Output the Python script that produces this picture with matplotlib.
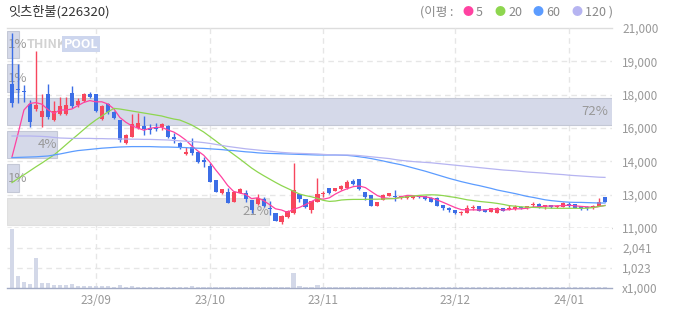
import matplotlib
matplotlib.use("Agg")
import matplotlib.pyplot as plt
import numpy as np

plt.rcParams['font.family'] = ['Noto Sans CJK KR', 'DejaVu Sans']

# ---------------- data ----------------
title = "잇츠한불(226320)"
opens = [18180, 17950, 17870, 17200, 16930, 16550, 17680, 16400, 16690, 16690,
         17730, 17150, 17350, 17690, 17690, 16450, 17200, 16790, 16400, 15240,
         15570, 15990, 16100, 16000, 16070, 16070, 16100, 15570, 15270, 14680,
         15030, 14820, 14400, 14100, 13400, 12730, 12820, 12320, 12770, 12730,
         12400, 12200, 12430, 11980, 11730, 11320, 11570, 11770, 12700, 12430,
         11900, 12320, 12690, 12980, 12850, 12930, 12990, 13350, 13450, 12780,
         12650, 12120, 12400, 12600, 12600, 12490, 12490, 12490, 12600, 12600,
         12520, 12520, 12150, 12020, 11900, 11730, 11770, 12000, 12100, 11950,
         11820, 11770, 11980, 11930, 11930, 12070, 11980, 12160, 12180, 12070,
         12150, 12030, 12070, 12200, 12180, 12100, 12070, 11980, 12100, 12530]
highs = [20750, 19180, 18150, 17400, 19850, 17680, 18180, 17350, 17570, 17550,
         18100, 17520, 17730, 17820, 17710, 17150, 17250, 16850, 16420, 15700,
         16700, 16750, 16620, 16220, 16270, 16240, 16130, 15730, 15300, 15070,
         15480, 14850, 14530, 14230, 13420, 12950, 12980, 12850, 12980, 12900,
         12420, 12700, 12530, 12370, 11750, 11650, 11900, 14270, 12720, 12450,
         12370, 13520, 12870, 12990, 12990, 13150, 13400, 13450, 13460, 12790,
         12670, 12320, 12680, 12770, 12900, 12620, 12620, 12620, 12650, 12620,
         12540, 12530, 12160, 12030, 11920, 11830, 12150, 12150, 12110, 11960,
         12000, 12030, 12000, 12150, 12130, 12080, 12110, 12320, 12230, 12160,
         12160, 12150, 12280, 12280, 12190, 12110, 12080, 12130, 12480, 12540]
lows = [17050, 17250, 17300, 16050, 16850, 16070, 16430, 16350, 16650, 16650,
        17020, 17070, 17300, 17500, 16780, 16420, 16700, 16450, 15290, 15200,
        15550, 15950, 15650, 15700, 15860, 15900, 15480, 15230, 14930, 14650,
        14650, 14230, 14070, 13300, 12800, 12720, 12250, 12300, 12750, 12320,
        11730, 12150, 12050, 11650, 11350, 11200, 11500, 11700, 12300, 12000,
        11730, 12300, 12570, 12720, 12830, 12920, 12970, 13150, 12900, 12400,
        12080, 12100, 12380, 12580, 12350, 12450, 12450, 12430, 12500, 12400,
        12300, 12100, 11900, 11800, 11680, 11650, 11750, 11900, 11850, 11780,
        11800, 11750, 11850, 11880, 11900, 11960, 11970, 12070, 12010, 11950,
        11980, 12020, 12060, 12030, 12000, 11920, 11900, 11970, 12090, 12310]
closes = [17260, 17880, 17800, 16280, 17130, 16850, 16530, 16850, 17120, 17150,
          17120, 17350, 17680, 17570, 16850, 17110, 16780, 16520, 15420, 15650,
          16190, 16230, 15950, 15880, 15930, 16200, 15560, 15430, 14980, 14820,
          14770, 14320, 14320, 13320, 12820, 12930, 12270, 12820, 12930, 12430,
          11900, 12480, 12100, 11950, 11370, 11600, 11870, 12900, 12430, 12030,
          12350, 12700, 12720, 12770, 12980, 13100, 13320, 13180, 12930, 12570,
          12100, 12320, 12650, 12770, 12530, 12600, 12600, 12600, 12550, 12430,
          12320, 12120, 11980, 11900, 11770, 11820, 12020, 12030, 11870, 11820,
          11980, 11980, 11870, 11950, 12030, 11980, 12100, 12180, 12020, 12150,
          12070, 12120, 12230, 12120, 12020, 11930, 11980, 12120, 12320, 12320]
volume_k = [2990, 620, 305, 200, 1515, 255, 255, 160, 160, 160,
            200, 105, 105, 105, 90, 105, 100, 70, 157, 70,
            104, 52, 52, 45, 45, 40, 45, 40, 45, 40,
            100, 45, 40, 35, 40, 35, 35, 40, 35, 35,
            40, 35, 35, 40, 45, 35, 40, 790, 88, 40,
            40, 140, 40, 35, 35, 40, 35, 35, 35, 35,
            35, 35, 35, 35, 35, 30, 30, 30, 30, 30,
            30, 35, 30, 30, 30, 30, 30, 30, 30, 30,
            30, 30, 30, 30, 30, 30, 30, 30, 30, 30,
            30, 30, 30, 30, 30, 30, 30, 30, 30, 35]
ma5 = [14550, 15700, 16900, 17230, 17270, 17190, 16920, 16730, 16900, 16900,
       16950, 17120, 17280, 17370, 17310, 17310, 17200, 16960, 16530, 16290,
       16110, 16000, 15890, 15980, 16030, 16040, 15900, 15800, 15620, 15400,
       15110, 14860, 14640, 14310, 13910, 13540, 13130, 12830, 12750, 12680,
       12470, 12510, 12370, 12170, 11960, 11900, 11780, 11940, 12030, 12170,
       12320, 12480, 12440, 12510, 12700, 12850, 12970, 13070, 13100, 13020,
       12820, 12620, 12510, 12480, 12470, 12570, 12630, 12620, 12580, 12560,
       12500, 12400, 12280, 12150, 12020, 11920, 11900, 11910, 11900, 11910,
       11940, 11940, 11900, 11920, 11960, 11960, 11990, 12050, 12060, 12090,
       12100, 12110, 12120, 12140, 12110, 12080, 12060, 12030, 12070, 12130]
ma20 = [13270, 13470, 13660, 13860, 14060, 14250, 14450, 14650, 14900, 15160,
        15420, 15670, 15930, 16180, 16400, 16600, 16800, 16980, 16950, 16900,
        16850, 16800, 16750, 16700, 16650, 16600, 16520, 16450, 16400, 16280,
        16150, 15980, 15800, 15580, 15360, 15130, 14900, 14680, 14460, 14230,
        14000, 13800, 13620, 13450, 13280, 13120, 12980, 12840, 12700, 12620,
        12560, 12480, 12380, 12330, 12350, 12400, 12420, 12430, 12430, 12430,
        12440, 12440, 12450, 12460, 12480, 12520, 12560, 12600, 12630, 12650,
        12660, 12650, 12620, 12570, 12530, 12470, 12410, 12370, 12330, 12300,
        12270, 12230, 12180, 12120, 12090, 12060, 12040, 12030, 12020, 12000,
        11990, 11985, 11985, 11985, 11985, 11985, 11990, 12020, 12080, 12120]
ma60 = [14520, 14530, 14540, 14550, 14560, 14580, 14600, 14650, 14700, 14760,
        14820, 14870, 14900, 14930, 14960, 14990, 15010, 15030, 15050, 15060,
        15070, 15070, 15070, 15070, 15060, 15050, 15050, 15040, 15030, 15020,
        15000, 14990, 14980, 14960, 14940, 14920, 14890, 14870, 14840, 14810,
        14790, 14760, 14740, 14730, 14720, 14710, 14700, 14690, 14680, 14670,
        14660, 14650, 14650, 14650, 14650, 14640, 14630, 14600, 14560, 14520,
        14470, 14410, 14350, 14280, 14220, 14160, 14080, 14000, 13920, 13840,
        13750, 13660, 13570, 13480, 13400, 13320, 13250, 13180, 13120, 13050,
        12980, 12900, 12840, 12780, 12720, 12650, 12580, 12530, 12470, 12410,
        12370, 12340, 12310, 12290, 12280, 12280, 12270, 12260, 12250, 12250]
ma120 = [15600, 15600, 15600, 15600, 15590, 15580, 15560, 15530, 15500, 15490,
         15480, 15480, 15480, 15480, 15470, 15470, 15460, 15460, 15450, 15450,
         15440, 15440, 15430, 15430, 15420, 15410, 15400, 15380, 15360, 15340,
         15320, 15300, 15270, 15230, 15180, 15130, 15080, 15040, 15000, 14960,
         14930, 14900, 14870, 14840, 14810, 14780, 14760, 14740, 14730, 14720,
         14710, 14700, 14680, 14660, 14650, 14650, 14650, 14640, 14620, 14590,
         14560, 14530, 14500, 14470, 14420, 14380, 14350, 14320, 14300, 14280,
         14260, 14230, 14200, 14170, 14140, 14110, 14080, 14050, 14020, 13990,
         13960, 13930, 13900, 13880, 13860, 13830, 13800, 13780, 13760, 13740,
         13710, 13690, 13670, 13640, 13620, 13600, 13580, 13560, 13540, 13530]
month_idx = [14, 33, 52, 74, 93]
month_labels = ['23/09', '23/10', '23/11', '23/12', '24/01']
price_min, price_max = 11000, 21000
price_tick_labels = ['11,000', '13,000', '14,000', '16,000', '18,000', '19,000', '21,000']
vol_max = 3062
vol_ticks = [0, 1023, 2041]
vol_tick_labels = ['x1,000', '1,023', '2,041']
profile_share = [21, 1, 4, 72, 1, 1]   # bottom band -> top band, %
ma_names = ['5', '20', '60', '120']

# ---------------- style ----------------
RED, BLUE = '#f7475d', '#3c6ee6'
MA_COLORS = ['#ff42a1', '#8ed64f', '#5c9cff', '#b6b4f1']
GRID = '#e6e6e6'
TXT = '#999999'

W, H = 673, 313
fig = plt.figure(figsize=(W / 100, H / 100), dpi=100)


def rect(l, t, r, b):
    return [l / W, 1 - b / H, (r - l) / W, (b - t) / H]


prect = rect(7, 28, 612, 228)
vrect = rect(7, 228, 612, 288)

ax_g = fig.add_axes(prect, zorder=0)
ax_p = fig.add_axes(prect, zorder=1, sharey=ax_g)
ax = fig.add_axes(prect, zorder=2, sharex=ax_g, sharey=ax_g)
ax_v = fig.add_axes(vrect, zorder=0, sharex=ax_g)

n = len(closes)
x = np.arange(n)
xlo, xhi = -0.83, n + 0.17
ax_g.set_xlim(xlo, xhi)
ax_g.set_ylim(price_min, price_max)

price_ticks = np.linspace(price_min, price_max, len(price_tick_labels))
for a in (ax_g, ax_p, ax):
    a.patch.set_visible(a is ax_g)
    for s in a.spines.values():
        s.set_visible(False)
    a.tick_params(length=0)
ax_g.patch.set_facecolor('white')
ax.tick_params(labelleft=False, labelbottom=False, labelright=False)
ax_p.tick_params(labelleft=False, labelbottom=False, labelright=False)
ax_p.set_xticks([])
ax.set_xticks([])

ax_g.yaxis.tick_right()
ax_g.set_yticks(price_ticks, price_tick_labels)
ax_g.tick_params(axis='y', length=0, pad=7.2, labelsize=8.5, labelcolor=TXT)
ax_g.tick_params(axis='x', labelbottom=False)
ax_g.set_xticks([])

# grid
for i, v in enumerate(price_ticks):
    if i == 0:
        ax_g.axhline(v, color='#a8a8a8', lw=1, ls=(0, (3, 2)), clip_on=False, zorder=3)
    elif i == len(price_ticks) - 1:
        ax_g.axhline(v, color='#dddddd', lw=1, clip_on=False)
    else:
        ax_g.axhline(v, color=GRID, lw=1, ls=(0, (4, 3)))
for m in month_idx:
    ax_g.axvline(m, color=GRID, lw=1, ls=(0, (4, 3)))

# volume-by-price profile
band_edges = np.linspace(price_min, price_max, len(profile_share) + 1)
band_h = band_edges[1] - band_edges[0]
centers = (band_edges[:-1] + band_edges[1:]) / 2
inset = 150
pmax = 48.5
ax_p.set_xlim(0, pmax)
for i, (c, s) in enumerate(zip(centers, profile_share)):
    cur = band_edges[i] <= closes[-1] < band_edges[i + 1]
    fc = '#e6e6e6' if cur else '#d5d9e9'
    ec = '#e0e0e0' if cur else '#c4c8d6'
    ax_p.barh(c, s, height=band_h - 2 * inset, left=0, color=fc, edgecolor=ec,
              linewidth=0.8, zorder=1)
    tx = min(max(s, 1.6), pmax * 0.994)
    ax_p.text(tx, c, f'{s}%', ha='right', va='center', color=TXT, fontsize=9.5,
              zorder=2)

# candles
for i in x:
    o, h, l, c = opens[i], highs[i], lows[i], closes[i]
    col = RED if c >= o else BLUE
    ax.vlines(i, l, h, color=col, lw=1, zorder=3)
    ax.bar(i, max(abs(c - o), 60), bottom=min(o, c), width=0.68, color=col,
           linewidth=0, zorder=4)

for ma, col in zip([ma5, ma20, ma60, ma120], MA_COLORS):
    ax.plot(x, ma, color=col, lw=0.9, zorder=5)

# volume
ax_v.bar(x, volume_k, width=0.72, color='#d3d8e8', linewidth=0, zorder=2)
ax_v.set_ylim(0, vol_max)
for s in ax_v.spines.values():
    s.set_visible(False)
ax_v.spines['bottom'].set_visible(True)
ax_v.spines['bottom'].set_color('#a3abc5')
ax_v.spines['bottom'].set_linewidth(1)
for v in vol_ticks[1:]:
    ax_v.axhline(v, color=GRID, lw=1, ls=(0, (4, 3)), zorder=1)
for m in month_idx:
    ax_v.axvline(m, color=GRID, lw=1, ls=(0, (4, 3)), zorder=1)
ax_v.yaxis.tick_right()
ax_v.set_yticks(vol_ticks, vol_tick_labels)
ax_v.set_xticks(month_idx, month_labels)
ax_v.tick_params(axis='y', length=0, pad=7.2, labelsize=8.5, labelcolor=TXT)
ax_v.tick_params(axis='x', length=0, pad=4.5, labelsize=8.5, labelcolor=TXT)

# watermark
fig.text(27 / W, 1 - 44 / H, 'THINK', color='#d2d2d2', fontsize=9, fontweight='bold',
         ha='left', va='center', zorder=10)
fig.text(64 / W, 1 - 44 / H, 'POOL', color='white', fontsize=9, fontweight='bold',
         ha='left', va='center', zorder=10,
         bbox=dict(facecolor='#cdd6ee', edgecolor='none', pad=1.2))

# title and legend
fig.text(8 / W, 1 - 12 / H, title, color='#333333', fontsize=9.5, ha='left', va='center')
fig.text(420 / W, 1 - 12 / H, '(이평 :', color='#888888', fontsize=9, ha='left', va='center')
leg_x = [468, 500, 538, 577]
for xx, name, col in zip(leg_x, ma_names, MA_COLORS):
    fig.text(xx / W, 1 - 12 / H, '●', color=col, fontsize=8, ha='center', va='center')
    lab = name + ' )' if name == ma_names[-1] else name
    fig.text((xx + 8) / W, 1 - 12 / H, lab, color='#888888', fontsize=9,
             ha='left', va='center')

fig.savefig('out.png', dpi=100)
